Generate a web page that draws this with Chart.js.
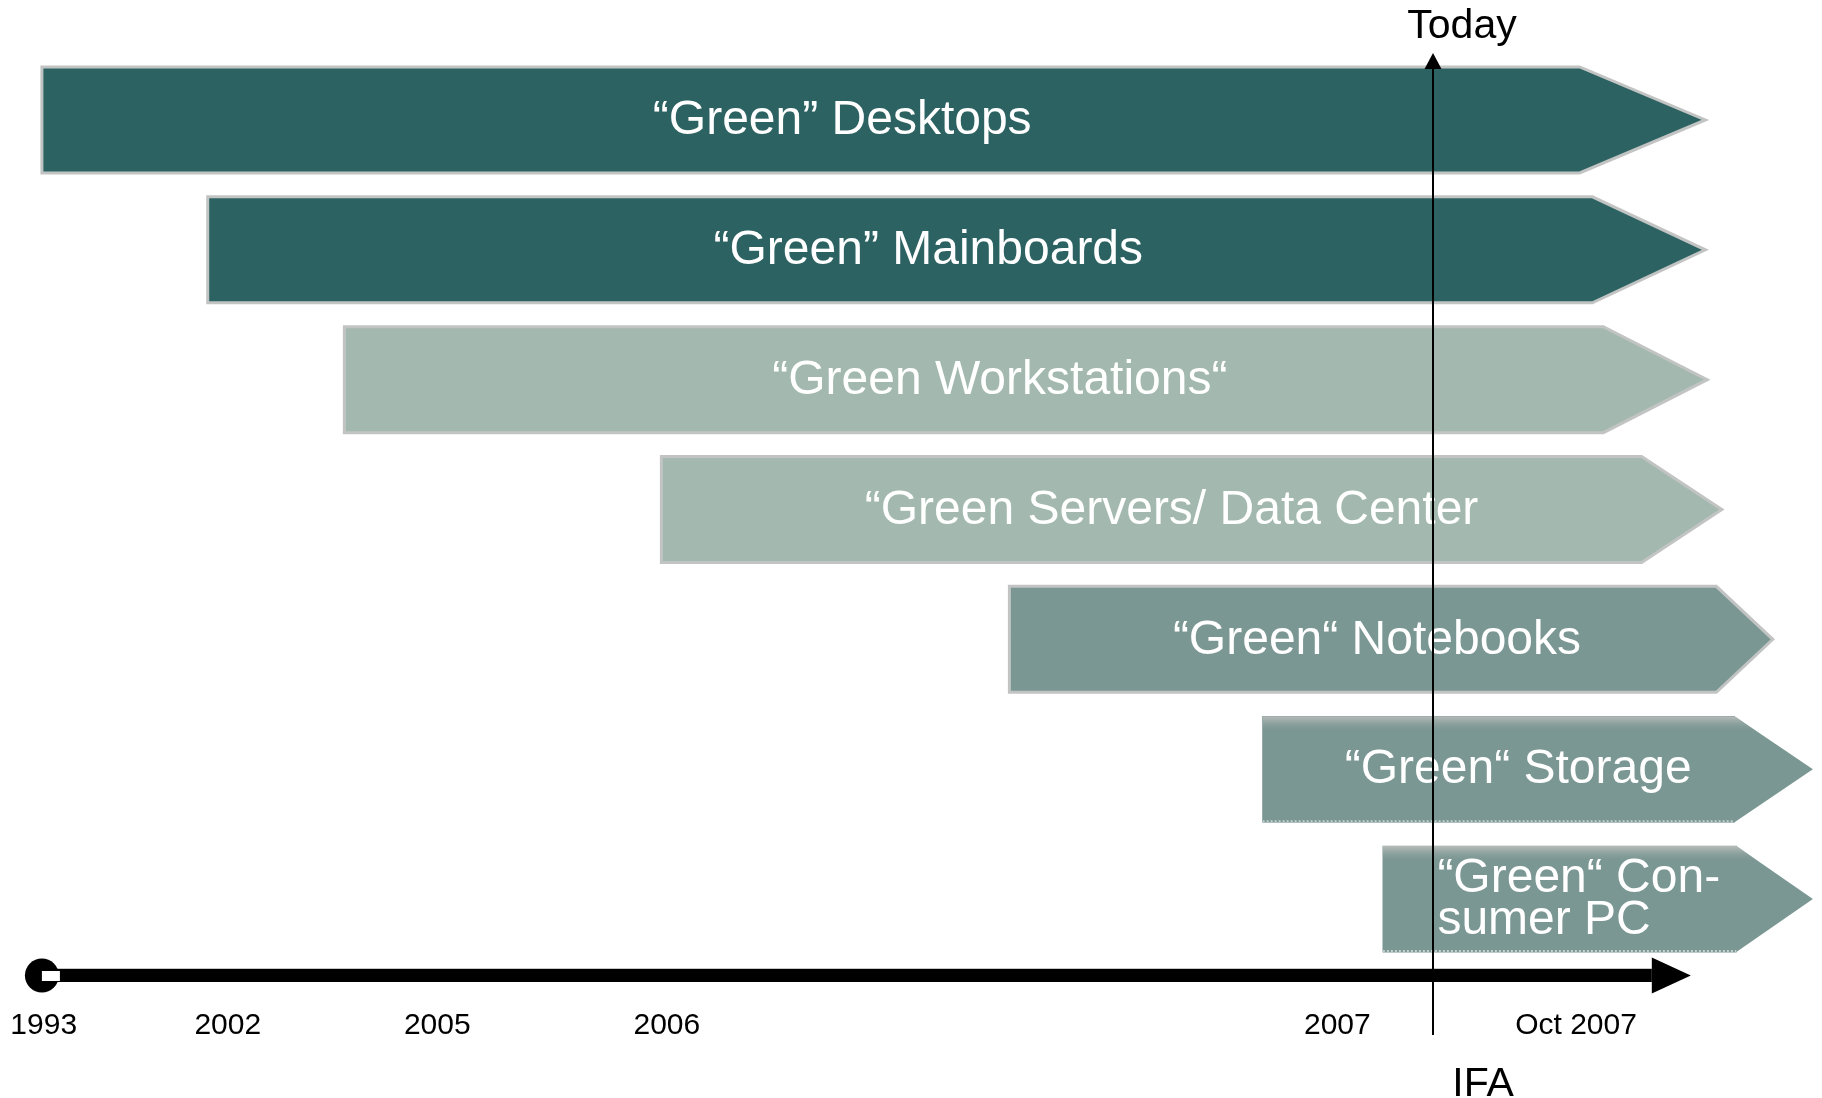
<!DOCTYPE html>
<html>
<head>
<meta charset="utf-8">
<title>Green product roadmap</title>
<script src="https://cdn.jsdelivr.net/npm/chart.js@4.4.1/dist/chart.umd.min.js"></script>
<style>
  html, body { margin: 0; padding: 0; background: #fff; }
  #wrap { width: 1822px; height: 1098px; }
</style>
</head>
<body>
<div id="wrap"><canvas id="roadmap"></canvas></div>
<script>
// One row per product line, top to bottom
const products = ['Desktops', 'Mainboards', 'Workstations', 'Servers / Data Center', 'Notebooks', 'Storage', 'Consumer PC'];
const barLabels = [
    '\u201CGreen\u201D Desktops',
    '\u201CGreen\u201D Mainboards',
    '\u201CGreen Workstations\u201C',
    '\u201CGreen Servers/ Data Center',
    '\u201CGreen\u201C Notebooks',
    '\u201CGreen\u201C Storage',
    ['\u201CGreen\u201C Con-', 'sumer PC']
];

// Timeline positions (0 = left edge, 100 = right edge of the roadmap)
const startPos = [2.3, 11.4, 18.9, 36.3, 55.4, 69.3, 75.9];
const bodyEnd  = [86.7, 87.4, 88.0, 90.1, 94.2, 95.2, 95.3];
const tipEnd   = [93.6, 93.6, 93.7, 94.5, 97.3, 99.5, 99.5];

const tickLabels = ['1993', '2002', '2005', '2006', '2007', 'Oct 2007'];
const tickPos    = [2.4, 12.5, 24.0, 36.6, 73.4, 86.5];

const timelineStart = 2.3;
const timelineEnd = 92.8;
const todayPos = 78.65;

// Colours
const DARK = '#2d6262', LIGHT = '#a3b9af', MID = '#7b9793';
const barColors = [DARK, DARK, LIGHT, LIGHT, MID, MID, MID];
const FONT = '"Liberation Sans", Arial, sans-serif';

const roadmapPlugin = {
    id: 'roadmap',
    afterDatasetsDraw(chart) {
        const ctx = chart.ctx;
        const xs = chart.scales.x;
        const area = chart.chartArea;
        const meta = chart.getDatasetMeta(0);

        // Pentagon arrows on top of the bar bodies
        meta.data.forEach((bar, i) => {
            const half = bar.height / 2;
            const left = Math.min(bar.base, bar.x);
            const right = Math.max(bar.base, bar.x);
            const tip = xs.getPixelForValue(tipEnd[i]);
            const top = bar.y - half, bottom = bar.y + half;

            ctx.save();
            ctx.beginPath();
            ctx.moveTo(left, top);
            ctx.lineTo(right, top);
            ctx.lineTo(tip, bar.y);
            ctx.lineTo(right, bottom);
            ctx.lineTo(left, bottom);
            ctx.closePath();
            ctx.fillStyle = barColors[i];
            ctx.fill();
            if (i < 5) {
                ctx.lineWidth = 3;
                ctx.lineJoin = 'miter';
                ctx.strokeStyle = '#c2c4c3';
                ctx.stroke();
            } else {
                // softer, shadowed edge for the last two shapes
                ctx.clip();
                const g = ctx.createLinearGradient(0, top, 0, top + 16);
                g.addColorStop(0, '#b9bdbb');
                g.addColorStop(1, 'rgba(123,151,147,0)');
                ctx.fillStyle = g;
                ctx.fillRect(left, top, tip - left, 16);
                ctx.strokeStyle = 'rgba(255,255,255,0.55)';
                ctx.lineWidth = 2;
                ctx.setLineDash([2, 2]);
                ctx.beginPath();
                ctx.moveTo(left, bottom - 1);
                ctx.lineTo(right, bottom - 1);
                ctx.stroke();
            }
            ctx.restore();

            // White label inside the shape
            const cx = (left + (right + tip) / 2) / 2;
            ctx.save();
            ctx.font = '48px ' + FONT;
            ctx.fillStyle = '#ffffff';
            ctx.textBaseline = 'middle';
            const lines = Array.isArray(barLabels[i]) ? barLabels[i] : [barLabels[i]];
            if (lines.length === 1) {
                ctx.textAlign = 'center';
                ctx.fillText(lines[0], cx, bar.y + 1);
            } else {
                const w = Math.max(...lines.map(l => ctx.measureText(l).width));
                ctx.textAlign = 'left';
                lines.forEach((l, k) => {
                    ctx.fillText(l, cx - w / 2, bar.y + 1 + (k - (lines.length - 1) / 2) * 42);
                });
            }
            ctx.restore();
        });

        // Timeline arrow along the bottom
        const ty = xs.top + 11.5;
        const x0 = xs.getPixelForValue(timelineStart);
        const x1 = xs.getPixelForValue(timelineEnd);
        ctx.save();
        ctx.fillStyle = '#c8c8c8';
        ctx.fillRect(x0, ty - 7.5, x1 - 39 - x0, 1.5);
        ctx.fillStyle = '#000000';
        ctx.fillRect(x0, ty - 6.5, x1 - 39 - x0, 13);
        ctx.beginPath();
        ctx.moveTo(x1 - 39, ty - 18);
        ctx.lineTo(x1, ty);
        ctx.lineTo(x1 - 39, ty + 18);
        ctx.closePath();
        ctx.fill();
        ctx.beginPath();
        ctx.arc(x0, ty, 17, 0, Math.PI * 2);
        ctx.fill();
        ctx.fillStyle = '#ffffff';
        ctx.fillRect(x0, ty - 4.5, 18, 10);
        ctx.restore();

        // "Today" marker
        const tx = xs.getPixelForValue(todayPos);
        const lineTop = area.top - 2;
        ctx.save();
        ctx.strokeStyle = '#000000';
        ctx.lineWidth = 2;
        ctx.beginPath();
        ctx.moveTo(tx, lineTop + 14);
        ctx.lineTo(tx, xs.top + 71);
        ctx.stroke();
        ctx.fillStyle = '#000000';
        ctx.beginPath();
        ctx.moveTo(tx, lineTop);
        ctx.lineTo(tx + 8.5, lineTop + 16);
        ctx.lineTo(tx - 8.5, lineTop + 16);
        ctx.closePath();
        ctx.fill();
        ctx.font = '41px ' + FONT;
        ctx.textAlign = 'center';
        ctx.textBaseline = 'alphabetic';
        ctx.fillText('Today', tx + 29, area.top - 17);
        ctx.fillText('IFA', tx + 50, chart.height - 2);
        ctx.restore();
    }
};

const ctx = document.getElementById('roadmap').getContext('2d');
new Chart(ctx, {
    type: 'bar',
    data: {
        labels: products,
        datasets: [{
            data: products.map((p, i) => [startPos[i], bodyEnd[i]]),
            backgroundColor: barColors,
            borderWidth: 0,
            borderSkipped: false,
            barThickness: 106
        }]
    },
    options: {
        indexAxis: 'y',
        responsive: true,
        maintainAspectRatio: false,
        animation: false,
        layout: { padding: { top: 55, left: 0, right: 0, bottom: 0 } },
        plugins: {
            legend: { display: false },
            tooltip: { enabled: false }
        },
        scales: {
            x: {
                type: 'linear',
                min: 0,
                max: 100,
                afterBuildTicks: scale => {
                    scale.ticks = tickPos.map(v => ({ value: v }));
                },
                afterFit: scale => {
                    // keep the full canvas width for the roadmap
                    scale.height = 134;
                    scale.paddingLeft = 0;
                    scale.paddingRight = 0;
                },
                ticks: {
                    autoSkip: false,
                    maxRotation: 0,
                    padding: 44,
                    color: '#000000',
                    font: { family: FONT, size: 30 },
                    callback: (value, index) => tickLabels[index]
                },
                grid: { display: false, drawTicks: false },
                border: { display: false }
            },
            y: {
                display: false
            }
        }
    },
    plugins: [roadmapPlugin]
});
</script>
</body>
</html>
